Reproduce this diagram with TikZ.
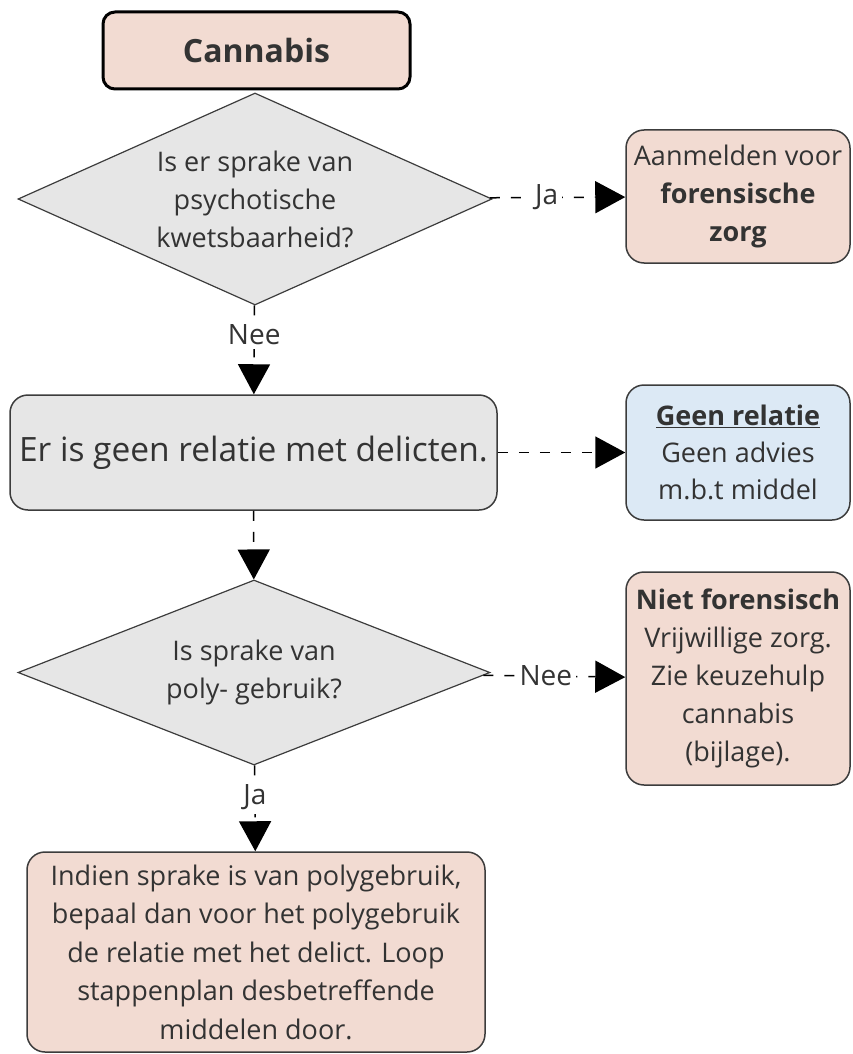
\documentclass[tikz,border=0pt]{standalone}
\usepackage{fontspec}
\setmainfont{Open Sans}
\usetikzlibrary{shapes.geometric,arrows.meta}
\definecolor{pinkfill}{HTML}{F2DBD2}
\definecolor{greyfill}{HTML}{E6E6E6}
\definecolor{bluefill}{HTML}{DCE9F5}
\definecolor{edgegrey}{HTML}{3C3C3C}
\definecolor{txtgrey}{HTML}{333333}

\begin{document}
\begin{tikzpicture}
	[x=1pt,y=-1pt,
	every node/.style={text=txtgrey,align=center,font=\fontsize{27}{38}\selectfont},
	box/.style={rectangle,rounded corners=18pt,draw=edgegrey,line width=1.5pt,inner sep=0pt},
	choice/.style={diamond,draw=edgegrey,line width=1.2pt,fill=greyfill,inner sep=0pt},
	link/.style={dash pattern=on 10pt off 11pt,line width=1.5pt,-{Triangle[length=30pt,width=32pt]}},
	lbl/.style={fill=white,inner sep=4pt,font=\fontsize{28}{32}\selectfont}]
	\useasboundingbox (0,0) rectangle (852,1054);
	
	\node (q1) at (255,199) [choice,aspect=2.24,minimum width=474,minimum height=212] {Is er sprake van\\psychotische\\kwetsbaarheid?};
	\node (start) at (256.5,50.5) [box,draw=black,line width=3pt,rounded corners=12pt,fill=pinkfill,minimum width=307,minimum height=77,font=\fontsize{32}{38}\selectfont\bfseries] {Cannabis};
	\node (forens) at (738,196.5) [box,fill=pinkfill,minimum width=224,minimum height=133] {Aanmelden voor\\\textbf{forensische}\\\textbf{zorg}};
	\node (norel) at (253.5,452.5) [box,fill=greyfill,minimum width=487,minimum height=115,font=\fontsize{33.5}{40}\selectfont] {Er is geen relatie met delicten.};
	\node (geen) at (738,452.5) [box,fill=bluefill,minimum width=224,minimum height=135,font=\fontsize{27}{37}\selectfont] {\underline{\textbf{Geen relatie}}\\Geen advies\\m.b.t middel};
	\node (q2) at (254,672.5) [choice,aspect=2.55,minimum width=472,minimum height=185] {Is sprake van\\poly- gebruik?};
	\node (niet) at (738,678.5) [box,fill=pinkfill,minimum width=224,minimum height=213] {\textbf{Niet forensisch}\\Vrijwillige zorg.\\Zie keuzehulp\\cannabis\\(bijlage).};
	\node (poly) at (256,952) [box,fill=pinkfill,minimum width=458,minimum height=200,font=\fontsize{27}{38.5}\selectfont] {Indien sprake is van polygebruik,\\bepaal dan voor het polygebruik\\de relatie met het delict. Loop\\stappenplan desbetreffende\\middelen door.};
	
	\draw[link] (q1) -- node[lbl,pos=0.42] {Ja} (forens);
	\draw[link] (q1) -- node[lbl,pos=0.33] {Nee} (norel);
	\draw[link] (q2) -- node[lbl,pos=0.44] {Nee} (niet);
	\draw[link] (q2) -- node[lbl,pos=0.37] {Ja} (poly);
	\foreach \from/\to in {norel/geen,norel/q2}
	\draw[link] (\from) -- (\to);
\end{tikzpicture}
\end{document}
